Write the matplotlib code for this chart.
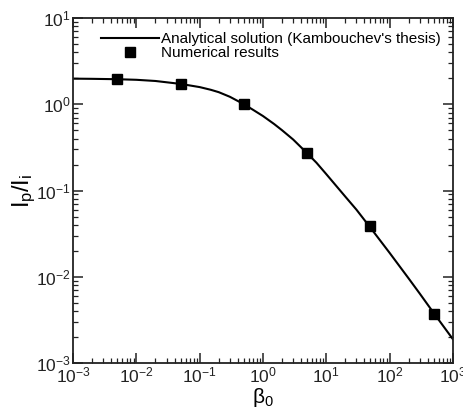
import numpy as np
import matplotlib
matplotlib.use("Agg")
import matplotlib.pyplot as plt
from matplotlib.ticker import LogLocator, NullFormatter

plt.rcParams['font.family'] = ['Liberation Sans', 'DejaVu Sans']
plt.rcParams['mathtext.fontset'] = 'custom'
plt.rcParams['mathtext.rm'] = 'Liberation Sans'
plt.rcParams['mathtext.it'] = 'Liberation Sans'

# analytical curve
beta_curve = [1e-3, 2e-3, 5e-3, 1e-2, 2e-2, 5e-2, 0.1, 0.15, 0.2, 0.3, 0.5,
              0.7, 1, 1.5, 2, 3, 5, 7, 10, 20, 30, 50, 100, 200, 300, 500, 1000]
ratio_curve = [1.98, 1.97, 1.95, 1.92, 1.86, 1.72, 1.58, 1.47, 1.38, 1.22,
               1.0, 0.86, 0.73, 0.59, 0.50, 0.39, 0.27, 0.21, 0.155, 0.085,
               0.06, 0.037, 0.019, 0.0096, 0.0064, 0.0038, 0.0019]

# numerical results
beta_num = [0.005, 0.05, 0.5, 5, 50, 500]
ratio_num = [1.96, 1.72, 1.0, 0.272, 0.039, 0.0037]

fig = plt.figure(figsize=(4.63, 4.08), dpi=100)
ax = fig.add_axes([0.158, 0.110, 0.820, 0.846])

ax.plot(beta_curve, ratio_curve, color='black', lw=1.5,
        label="Analytical solution (Kambouchev's thesis)")
ax.plot(beta_num, ratio_num, 's', color='black', ms=7.5,
        label='Numerical results')

ax.set_xscale('log')
ax.set_yscale('log')
ax.set_xlim(1e-3, 1e3)
ax.set_ylim(1e-3, 1e1)

ax.xaxis.set_major_locator(LogLocator(base=10, numticks=10))
ax.yaxis.set_major_locator(LogLocator(base=10, numticks=10))
ax.xaxis.set_minor_locator(LogLocator(base=10, subs=np.arange(2, 10), numticks=10))
ax.yaxis.set_minor_locator(LogLocator(base=10, subs=np.arange(2, 10), numticks=10))
ax.xaxis.set_minor_formatter(NullFormatter())
ax.yaxis.set_minor_formatter(NullFormatter())

ax.tick_params(which='both', direction='in', top=True, right=True,
               labelsize=12.5, colors='#222222')
ax.tick_params(which='major', length=7, width=1.1, pad=2)
ax.tick_params(which='minor', length=3.5, width=0.9)
for s in ax.spines.values():
    s.set_linewidth(1.3)
    s.set_color('#222222')

ax.set_xlabel(r'$\beta_0$', fontsize=15, labelpad=0)
ax.set_ylabel(r'$I_p/I_i$', fontsize=17, labelpad=-2)

leg = ax.legend(loc='upper left', bbox_to_anchor=(0.045, 0.99), frameon=False,
                fontsize=11, handlelength=3.8, handletextpad=0.1,
                borderpad=0.2, labelspacing=0.0)

fig.savefig('out.png', dpi=100)
